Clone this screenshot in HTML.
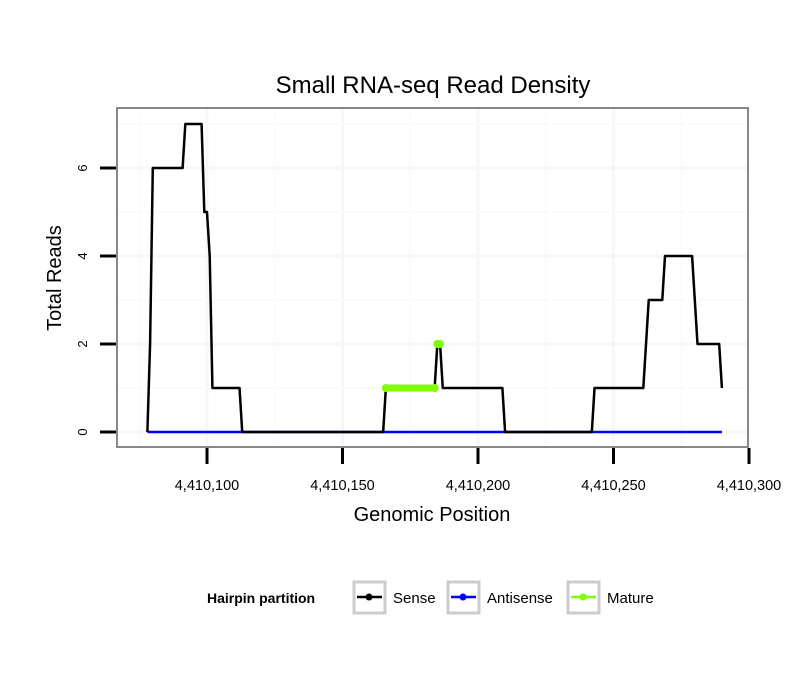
<!DOCTYPE html>
<html><head><meta charset="utf-8"><style>
body{margin:0;background:#fff}
svg text{font-family:"Liberation Sans",sans-serif}
</style></head><body>
<svg width="810" height="690" xmlns="http://www.w3.org/2000/svg">
<rect width="810" height="690" fill="#fff"/>
<text x="433" y="93" font-size="24" text-anchor="middle">Small RNA-seq Read Density</text>
<g id="grid"></g>
<g id="series"></g>
<rect x="117" y="108" width="631" height="339" fill="none" stroke="#888" stroke-width="2"/>
<g id="axes"></g>
<text x="432" y="521" font-size="20" text-anchor="middle">Genomic Position</text>
<text transform="translate(61,278) rotate(-90)" font-size="20" text-anchor="middle">Total Reads</text>
<g>
<text x="207" y="603" font-size="14" font-weight="bold">Hairpin partition</text>
<g><rect x="354" y="582" width="31" height="31" fill="#fff" stroke="#ccc" stroke-width="3"/><line x1="357" y1="597" x2="382" y2="597" stroke="#000" stroke-width="2.5"/><circle cx="369" cy="597" r="3.5" fill="#000"/><text x="393" y="603" font-size="15">Sense</text></g>
<g><rect x="448" y="582" width="31" height="31" fill="#fff" stroke="#ccc" stroke-width="3"/><line x1="451" y1="597" x2="476" y2="597" stroke="#00f" stroke-width="2.5"/><circle cx="463" cy="597" r="3.5" fill="#00f"/><text x="487" y="603" font-size="15">Antisense</text></g>
<g><rect x="568" y="582" width="31" height="31" fill="#fff" stroke="#ccc" stroke-width="3"/><line x1="571" y1="597" x2="596" y2="597" stroke="#7fff00" stroke-width="2.5"/><circle cx="583" cy="597" r="3.5" fill="#7fff00"/><text x="607" y="603" font-size="15">Mature</text></g>
</g>
</svg>
<script>
const xTicks=[4410100,4410150,4410200,4410250,4410300];
const xTickLabels=["4,410,100","4,410,150","4,410,200","4,410,250","4,410,300"];
const yTicks=[0,2,4,6];
const senseX=[4410078,4410079,4410080,4410091,4410092,4410098,4410099,4410100,4410101,4410102,4410112,4410113,4410165,4410166,4410184,4410185,4410186,4410187,4410209,4410210,4410242,4410243,4410261,4410263,4410268,4410269,4410279,4410281,4410289,4410290];
const senseY=[0,2,6,6,7,7,5,5,4,1,1,0,0,1,1,2,2,1,1,0,0,1,1,3,3,4,4,2,2,1];
const antiX=[4410078,4410290];
const antiY=[0,0];
const matureX=[4410166,4410184,4410185,4410186];
const matureY=[1,1,2,2];
const NS="http://www.w3.org/2000/svg";
const X=v=>207+(v-4410100)*2.71;
const Y=v=>432-v*44;
function mk(t,a,p){const e=document.createElementNS(NS,t);for(const k in a)e.setAttribute(k,a[k]);p.appendChild(e);return e;}
const grid=document.getElementById('grid'),axes=document.getElementById('axes'),ser=document.getElementById('series');
for(let i=0;i<xTicks.length;i++){
 const gx=X(xTicks[i]);
 if(gx<748){const l=mk('line',{x1:gx,x2:gx,y1:108,y2:447,stroke:'#f7f7f7','stroke-width':3},grid);}
 const mx=X(xTicks[i]-25);
 if(mx>117){const l=mk('line',{x1:mx,x2:mx,y1:108,y2:447,stroke:'#fbfbfb','stroke-width':2},grid);}
 const t=mk('line',{x1:gx,x2:gx,y1:448,y2:464,stroke:'#000','stroke-width':3},axes);
 
 const tx=mk('text',{x:gx,y:490,'font-size':14.5,'text-anchor':'middle'},axes);tx.textContent=xTickLabels[i];
 
}
for(const v of yTicks){
 const gy=Y(v);
 const l=mk('line',{x1:117,x2:748,y1:gy,y2:gy,stroke:'#f7f7f7','stroke-width':3},grid);
 const m=mk('line',{x1:117,x2:748,y1:Y(v+1),y2:Y(v+1),stroke:'#fbfbfb','stroke-width':2},grid);
 const t=mk('line',{x1:100,x2:116,y1:gy,y2:gy,stroke:'#000','stroke-width':3},axes);
 
 const tx=mk('text',{transform:`translate(87,${gy}) rotate(-90)`,'font-size':13,'text-anchor':'middle'},axes);tx.textContent=v;
 
}
function path(xs,ys,col,w,name){const d=xs.map((x,i)=>(i?'L':'M')+X(x)+','+Y(ys[i])).join('');
 const p=mk('path',{d:d,fill:'none',stroke:col,'stroke-width':w,'stroke-linejoin':'round'},ser);
 }
path(antiX,antiY,'#00f',2.5,'antisense-line');
path(senseX,senseY,'#000',2.5,'sense-line');
path(matureX.slice(0,2),matureY.slice(0,2),'#7fff00',7,'mature-line');
path(matureX.slice(2),matureY.slice(2),'#7fff00',7,'mature-peak');
for(let i=0;i<matureX.length;i++){const c=mk('circle',{cx:X(matureX[i]),cy:Y(matureY[i]),r:4,fill:'#7fff00'},ser);
 }
</script>
</body></html>
